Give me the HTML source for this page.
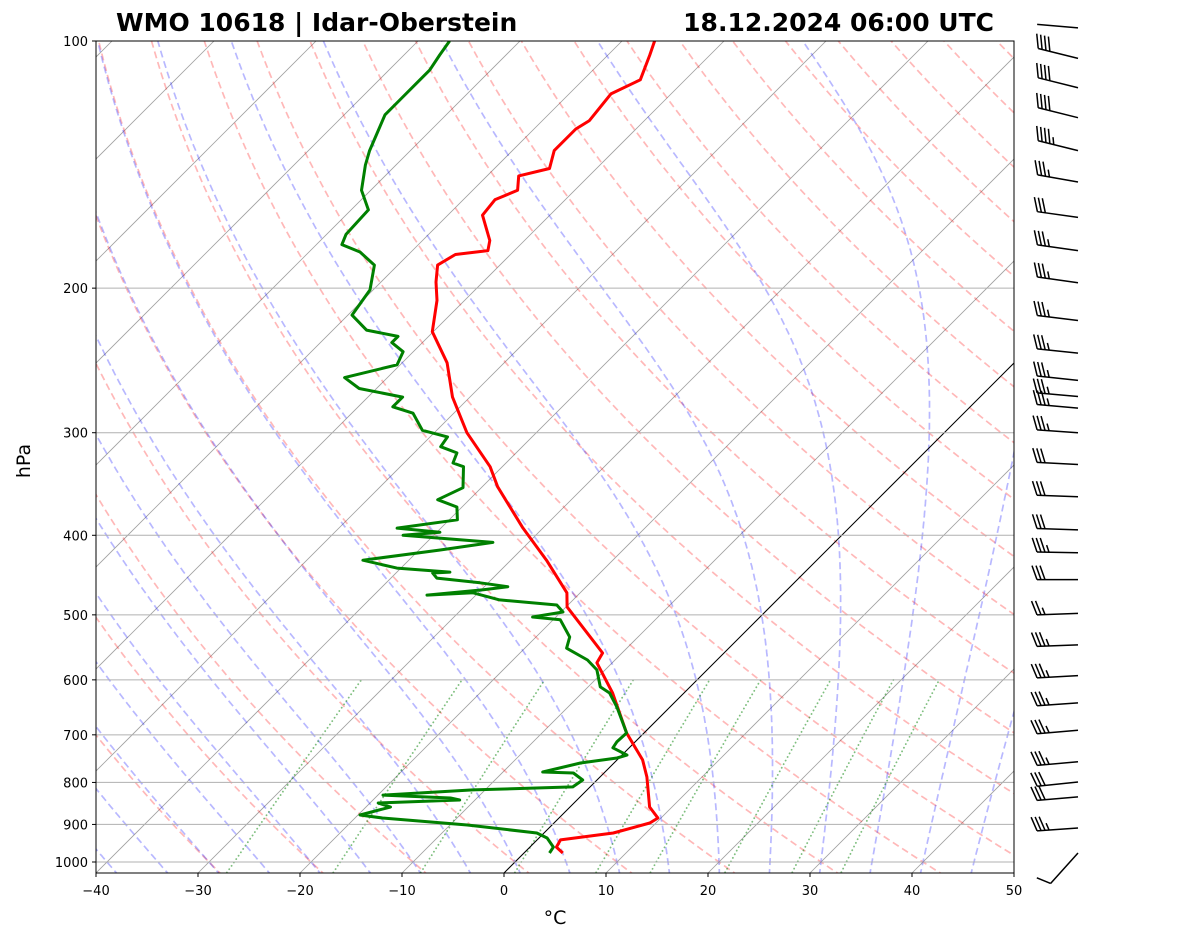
<!DOCTYPE html>
<html><head><meta charset="utf-8"><style>
html,body{margin:0;padding:0;background:#fff;}
svg{display:block;font-family:"DejaVu Sans","Liberation Sans",sans-serif;}
</style></head><body>
<svg id="chart" width="1181" height="941" viewBox="0 0 1181 941" xmlns="http://www.w3.org/2000/svg">
<defs><clipPath id="plotclip"><rect x="96" y="41" width="918" height="832"/></clipPath></defs>
<rect x="0" y="0" width="1181" height="941" fill="#fff"/>
<g id="bg" clip-path="url(#plotclip)"></g>
<g id="grid"></g>
<g id="series" clip-path="url(#plotclip)"></g>
<rect x="96" y="41" width="918" height="832" fill="none" stroke="#000" stroke-width="1"/>
<g id="axes"></g>
<g id="barbs"></g>
<text x="116" y="31" font-size="25" font-weight="bold">WMO 10618 | Idar-Oberstein</text>
<text x="994" y="31" font-size="25" font-weight="bold" text-anchor="end">18.12.2024 06:00 UTC</text>
<text x="555" y="924" font-size="19" text-anchor="middle">°C</text>
<text x="30" y="461" font-size="19" text-anchor="middle" transform="rotate(-90 30 461)">hPa</text>
</svg>
<script>
const tempP = [975,959,940,922,896.5,884,857,788,751,696.5,622.5,572,556.5,489,470,429,391,349,330,300,271.5,246.6,226,207,196.6,187.5,182,180,175,163,156,152,146,143,136,128,125,116,111.5,104,100];
const tempT = [3.8,2.6,2.3,6.8,9.4,9.7,7.8,4.6,2.5,-1.7,-7,-11.5,-11.9,-19.9,-21.3,-26.5,-32.1,-38.5,-41.2,-46.8,-51.7,-55.6,-60.1,-62.7,-64.6,-66.1,-65.4,-62.6,-63.4,-66.6,-66.9,-65.6,-66.9,-64.6,-65.9,-65.9,-65.4,-65.9,-64.4,-65.9,-66.8];
const dewP = [975,959,935,922,901.5,884,876.6,857,847.5,840.5,835.6,829,817,810,794.5,779,777,757.5,747,741,726,714,696.5,647.5,622.5,612,583.5,567.5,549,532,507,503,496,486.4,479.5,470,473,466,462,457,451,444.6,443.5,438.5,429,417,408,400,396.5,392,383,369.5,362,350,330,326.6,317.5,312,303.5,298,284,279,271.5,265,257,248,239,233,229,225,215.7,201,187.5,180.7,177,172,160.6,152,141.6,136,128,123,118,113,108.5,104,100];
const dewT = [2.5,2.3,0.8,-0.7,-8.3,-17.3,-19.8,-17.6,-19.2,-11.5,-12.6,-19.5,-11.2,-1.7,-1.4,-3,-6.1,-3.3,-0.2,0.5,-1.6,-1.8,-1.7,-5.2,-7.3,-8.8,-10.8,-12.7,-15.9,-16.7,-19.3,-22.3,-19.8,-21.1,-27.2,-30.5,-34.8,-29.8,-27.7,-30.8,-35.5,-36.4,-34.8,-40.4,-44.5,-38,-33.5,-43,-39.7,-44.3,-39.2,-40.5,-43.1,-41.8,-43.8,-45.2,-45.8,-48,-48.3,-51.4,-54,-56.6,-56.6,-61.7,-64.2,-60.3,-61,-63,-63,-66.7,-69.6,-70.3,-72.3,-75,-77.5,-78.1,-78.3,-80.9,-83,-84,-85.2,-86,-86,-86,-86,-86.5,-86.9];
const barbP = [96.4,105,114,124,136,148.5,164,180,197,219,240,259,271,280,300,328,359,394,420,453,498,544,593,640,691,755,799,833,909,975];
const barbSpd = [2,40,40,40,45,35,30,35,35,35,35,35,35,35,35,30,30,30,35,30,25,35,35,35,35,35,30,30,35,10];
const barbDir = [275,284,284,284,284,280,278,278,278,277,276,276,275,275,274,273,272,272,271,270,268,268,267,266,265,265,264,265,266,222];
const xTicks = [-40,-30,-20,-10,0,10,20,30,40,50];
const yTicks = [100,200,300,400,500,600,700,800,900,1000];
const dryT0 = [-30,-20,-10,0,10,20,30,40,50,60,70,80,90,100,110,120,130,140,150,160,170,180,190,200];
const moistT0 = [-50,-45,-40,-35,-30,-25,-20,-15,-10,-5,0,5,10,15,20,25,30,35,40,45];
const mixW = [0.0004,0.001,0.002,0.004,0.007,0.01,0.016,0.024,0.032];

const NS="http://www.w3.org/2000/svg";
const X0=96, YB=873, XS=10.2, Y100=41, DEC=821;
function Y(p){return Y100+DEC*Math.log10(p/100);}
function X(T,p){return X0+(T+40)*XS+(YB-Y(p));}
function mk(tag,attrs,parent){const e=document.createElementNS(NS,tag);for(const k in attrs)e.setAttribute(k,attrs[k]);parent.appendChild(e);return e;}
function pathFrom(ps,ts){let d="";for(let i=0;i<ps.length;i++){d+=(i?"L":"M")+X(ts[i],ps[i]).toFixed(1)+","+Y(ps[i]).toFixed(1);}return d;}
const bg=document.getElementById('bg'), grid=document.getElementById('grid'), series=document.getElementById('series'), axes=document.getElementById('axes'), barbs=document.getElementById('barbs');

for(let T=-140;T<=50;T+=10){
  const l=mk('line',{x1:X(T,1035),y1:Y(1035),x2:X(T,95),y2:Y(95),stroke:'#888','stroke-width':0.8,'stroke-opacity':0.8},bg);
  
  
}
dryT0.forEach(t0=>{
  const ps=[],ts=[];for(let p=1040;p>=95;p-=5){ps.push(p);ts.push((t0+273.15)*Math.pow(p/1000,0.2857)-273.15);}
  const e=mk('path',{d:pathFrom(ps,ts),fill:'none',stroke:'#ff0000','stroke-opacity':0.28,'stroke-width':1.7,'stroke-dasharray':'7,4'},bg);
  
  
});
function lapse(T,p){const Rd=287.04,Cp=1005.7,Lv=2.501e6,eps=0.622;const es=6.112*Math.exp(17.67*(T-273.15)/(T-29.65));const rs=eps*es/Math.max(p-es,1);return ((Rd*T+Lv*rs)/(Cp+Lv*Lv*rs*eps/(Rd*T*T)))/p;}
function integ(T,p0,p1,dp){const ps=[p0],ts=[T-273.15];let p=p0;while((dp<0&&p>p1)||(dp>0&&p<p1)){const k1=lapse(T,p);const k2=lapse(T+k1*dp,p+dp);T+=0.5*(k1+k2)*dp;p+=dp;ps.push(p);ts.push(T-273.15);}return [ps,ts];}
moistT0.forEach(t0=>{
  const up=integ(t0+273.15,1000,95,-2), dn=integ(t0+273.15,1000,1040,2);
  const ps=dn[0].slice().reverse().concat(up[0].slice(1)), ts=dn[1].slice().reverse().concat(up[1].slice(1));
  const e=mk('path',{d:pathFrom(ps,ts),fill:'none',stroke:'#0000ff','stroke-opacity':0.28,'stroke-width':1.7,'stroke-dasharray':'7,4'},bg);
  
  
});
mixW.forEach(w=>{
  const ps=[],ts=[];for(let p=1040;p>=600;p-=10){const e=p*w/(0.622+w);const l=Math.log(e/6.112);ps.push(p);ts.push(243.5*l/(17.67-l));}
  const e=mk('path',{d:pathFrom(ps,ts),fill:'none',stroke:'#008000','stroke-opacity':0.5,'stroke-width':1.8,'stroke-dasharray':'0.1,4','stroke-linecap':'round'},bg);
  
  
});
const z=mk('line',{x1:X(0,1035),y1:Y(1035),x2:X(0,95),y2:Y(95),stroke:'#000','stroke-width':1},bg);



yTicks.forEach(p=>{
  const y=Y(p);
  const g=mk('line',{x1:96,y1:y,x2:1014,y2:y,stroke:'#b0b0b0','stroke-width':1},grid);
  
  
  const t=mk('line',{x1:92,y1:y,x2:96,y2:y,stroke:'#000','stroke-width':1},axes);
  
  
  const tx=mk('text',{x:88,y:y+5,'font-size':13,'text-anchor':'end'},axes);tx.textContent=p;
  
  
});
xTicks.forEach(T=>{
  const x=X0+(T+40)*XS;
  const t=mk('line',{x1:x,y1:873,x2:x,y2:877,stroke:'#000','stroke-width':1},axes);
  
  
  const tx=mk('text',{x:x,y:895,'font-size':13,'text-anchor':'middle'},axes);tx.textContent=(T<0?'\u2212'+(-T):T);
  
  
});

const tl=mk('path',{d:pathFrom(tempP,tempT),fill:'none',stroke:'#ff0000','stroke-width':3,'stroke-linejoin':'round'},series);


const dl=mk('path',{d:pathFrom(dewP,dewT),fill:'none',stroke:'#008000','stroke-width':3,'stroke-linejoin':'round'},series);



const BX=1078, L=41;
barbP.forEach((p,i)=>{
  const y=Y(p), d=barbDir[i]*Math.PI/180;
  const u=[Math.sin(d),-Math.cos(d)], n=[-u[1],u[0]];
  const ex=BX+u[0]*L, ey=y+u[1]*L;
  const g=mk('g',{stroke:'#000','stroke-width':1.5,fill:'none'},barbs);
  
  
  mk('line',{x1:BX,y1:y,x2:ex,y2:ey},g);
  let s=barbSpd[i], k=0;
  const full=Math.floor(s/10), half=(s%10)>=5?1:0;
  for(let j=0;j<full;j++){const px=ex-u[0]*4*k, py=ey-u[1]*4*k;mk('line',{x1:px,y1:py,x2:px+n[0]*14+u[0]*5,y2:py+n[1]*14+u[1]*5},g);k++;}
  if(half){if(k===0)k=1;const px=ex-u[0]*4*k, py=ey-u[1]*4*k;mk('line',{x1:px,y1:py,x2:px+n[0]*7+u[0]*2.5,y2:py+n[1]*7+u[1]*2.5},g);}
});
</script>
</body></html>
